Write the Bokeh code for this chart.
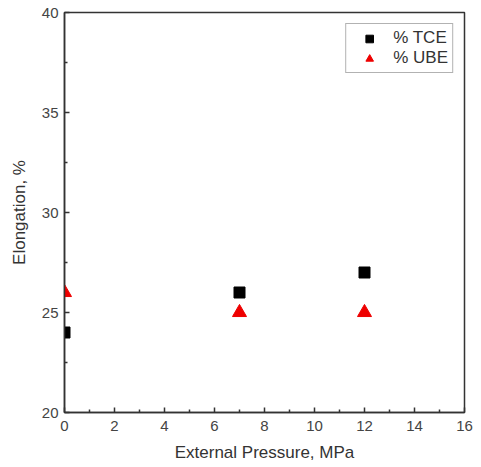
from bokeh.plotting import figure
from bokeh.models import Range1d, Legend, LegendItem, FixedTicker
from bokeh.embed import file_html
from bokeh.resources import INLINE

pressure = [0, 7, 12]
tce = [24, 26, 27]
ube = [26, 25, 25]
x_ticks = [0, 2, 4, 6, 8, 10, 12, 14, 16]
x_minor = [1, 3, 5, 7, 9, 11, 13, 15]
y_ticks = [20, 25, 30, 35, 40]
y_minor = [22.5, 27.5, 32.5, 37.5]

p = figure(output_backend="svg", toolbar_location=None,
           frame_width=400, frame_height=400,
           x_range=Range1d(0, 16), y_range=Range1d(20, 40),
           min_border_left=64, min_border_top=12, min_border_right=17, min_border_bottom=50)
p.grid.visible = False
p.outline_line_color = "#333333"
p.outline_line_width = 1.5
p.background_fill_color = "white"
p.border_fill_color = "white"

r1 = p.scatter(pressure, tce, marker="square", size=11, fill_color="black", line_color="black")
r2 = p.scatter(pressure, ube, marker="triangle", size=14, fill_color="#ee0000", line_color="#ee0000")

font = "Liberation Sans"
for ax in (p.xaxis[0], p.yaxis[0]):
    ax.axis_line_color = "#333333"
    ax.axis_line_width = 1.5
    ax.major_tick_in = 5
    ax.major_tick_out = 0
    ax.minor_tick_in = 3
    ax.minor_tick_out = 0
    ax.major_tick_line_color = "#333333"
    ax.minor_tick_line_color = "#333333"
    ax.major_tick_line_width = 1.5
    ax.minor_tick_line_width = 1.5
    ax.major_label_text_font = font
    ax.major_label_text_font_size = "15px"
    ax.major_label_text_color = "#444444"
    ax.axis_label_text_font = font
    ax.axis_label_text_font_size = "17px"
    ax.axis_label_text_font_style = "normal"
    ax.axis_label_text_color = "#333333"

p.xaxis.ticker = FixedTicker(ticks=x_ticks, minor_ticks=x_minor)
p.yaxis.ticker = FixedTicker(ticks=y_ticks, minor_ticks=y_minor)
p.xaxis.axis_label = "External Pressure, MPa"
p.yaxis.axis_label = "Elongation, %"
p.xaxis.major_label_standoff = 8
p.yaxis.major_label_standoff = 6
p.xaxis.axis_label_standoff = 9
p.yaxis.axis_label_standoff = 10

legend = Legend(items=[LegendItem(label="% TCE", renderers=[r1]),
                       LegendItem(label="% UBE", renderers=[r2])],
                location="top_right")
legend.label_text_font = font
legend.label_text_font_size = "17px"
legend.label_text_color = "#333333"
legend.border_line_color = "#666666"
legend.border_line_width = 1
legend.margin = 11
legend.padding = 4
legend.spacing = 0
legend.glyph_width = 38
legend.glyph_height = 19
legend.label_height = 19
legend.label_standoff = 5
p.add_layout(legend)

open("out.html", "w").write(file_html(p, INLINE))
